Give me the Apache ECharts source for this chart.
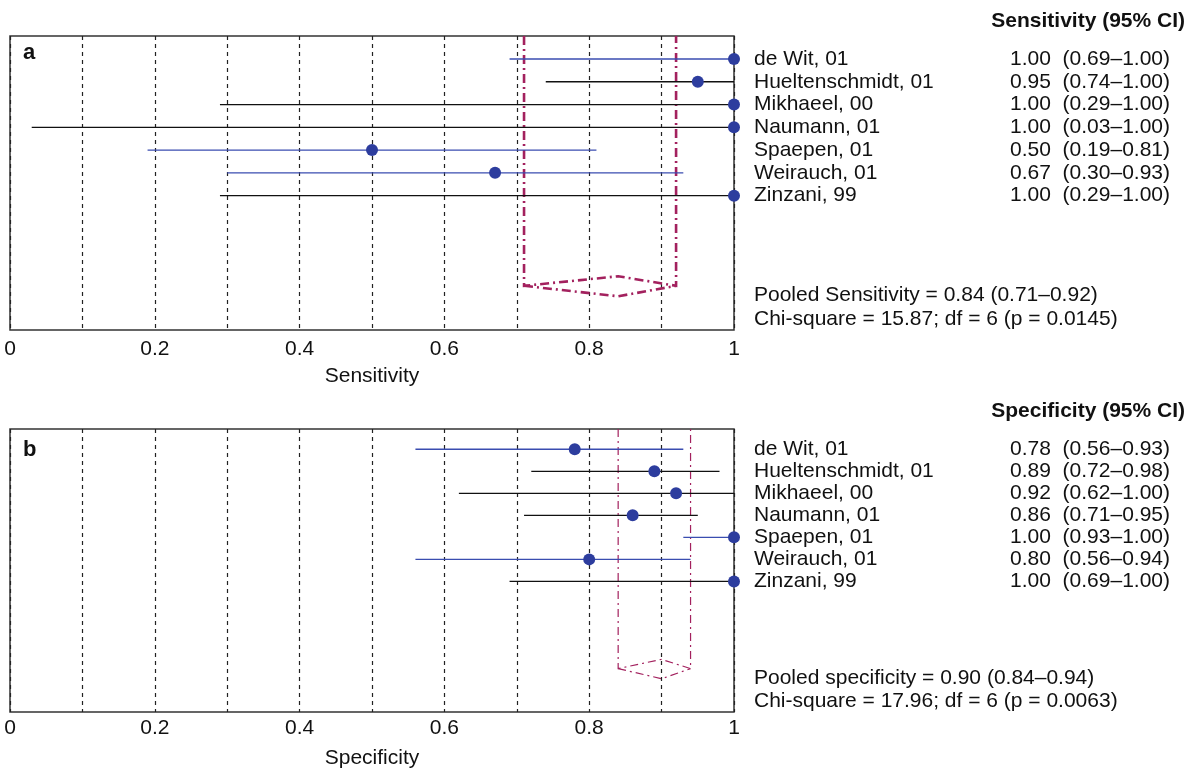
<!DOCTYPE html>
<html><head><meta charset="utf-8">
<script src="https://cdn.jsdelivr.net/npm/echarts@6/dist/echarts.min.js"></script>
<style>html,body{margin:0;padding:0;background:#fff}#c{width:1187px;height:770px}</style>
</head><body><div id="c"></div><script>
// ---------- data ----------
const studies = ['de Wit, 01','Hueltenschmidt, 01','Mikhaeel, 00','Naumann, 01','Spaepen, 01','Weirauch, 01','Zinzani, 99'];
const sensEst = [1.00, 0.95, 1.00, 1.00, 0.50, 0.67, 1.00];
const sensLo  = [0.69, 0.74, 0.29, 0.03, 0.19, 0.30, 0.29];
const sensHi  = [1.00, 1.00, 1.00, 1.00, 0.81, 0.93, 1.00];
const specEst = [0.78, 0.89, 0.92, 0.86, 1.00, 0.80, 1.00];
const specLo  = [0.56, 0.72, 0.62, 0.71, 0.93, 0.56, 0.69];
const specHi  = [0.93, 0.98, 1.00, 0.95, 1.00, 0.94, 1.00];
const lineGroup = ['blue','black','black','black','blue','blue','black'];
const pooledSens = [0.84, 0.71, 0.92];   // estimate, lower, upper
const pooledSpec = [0.90, 0.84, 0.94];
const xTickLabels = [0, 0.2, 0.4, 0.6, 0.8, 1];
const sensHeader = 'Sensitivity (95% CI)';
const specHeader = 'Specificity (95% CI)';
const sensPooledText = 'Pooled Sensitivity = 0.84 (0.71\u20130.92)';
const sensChiText = 'Chi-square = 15.87; df = 6 (p = 0.0145)';
const specPooledText = 'Pooled specificity = 0.90 (0.84\u20130.94)';
const specChiText = 'Chi-square = 17.96; df = 6 (p = 0.0063)';

// ---------- style ----------
const FONT = '"Liberation Sans", Arial, Helvetica, sans-serif';
const BLUE_LINE = '#3a4db0';
const BLACK_LINE = '#111111';
const DOT = '#2d3d9e';
const MAG = '#a3215e';
const FS = 21;

const chart = echarts.init(document.getElementById('c'), null, {renderer: 'canvas'});

function fmtTick(v) {
  for (const t of xTickLabels) {
    if (Math.abs(v - t) < 1e-6) return (t === 0 || t === 1) ? String(t) : t.toFixed(1);
  }
  return '';
}

function xAxisFor(gi, name, margin) {
  return {
    type: 'value', gridIndex: gi, min: 0, max: 1, interval: 0.1,
    axisLine: {show: false}, axisTick: {show: false},
    axisLabel: {formatter: fmtTick, fontSize: FS, color: '#111', fontFamily: FONT, margin: margin},
    splitLine: {show: true, lineStyle: {color: '#222', width: 1.2, type: [4, 4]}},
    name: name, nameLocation: 'middle', nameGap: 36,
    nameTextStyle: {fontSize: FS, color: '#111', fontFamily: FONT}
  };
}
function yAxisFor(gi, mn, mx) {
  return {type: 'value', gridIndex: gi, inverse: true, min: mn, max: mx, show: false};
}

function ciSeries(ai, lo, hi) {
  return {
    type: 'custom', xAxisIndex: ai, yAxisIndex: ai, clip: false, silent: true, z: 2,
    data: lo.map((l, i) => [l, i + 1, hi[i], lineGroup[i] === 'blue' ? 0 : 1]),
    encode: {x: [0, 2], y: 1},
    renderItem(params, api) {
      const p1 = api.coord([api.value(0), api.value(1)]);
      const p2 = api.coord([api.value(2), api.value(1)]);
      return {type: 'line', shape: {x1: p1[0], y1: p1[1], x2: p2[0], y2: p2[1]},
        style: {stroke: api.value(3) === 0 ? BLUE_LINE : BLACK_LINE, lineWidth: 1.3}};
    }
  };
}
function dotSeries(ai, est) {
  return {type: 'scatter', xAxisIndex: ai, yAxisIndex: ai, clip: false, silent: true, z: 3,
    symbolSize: 12, itemStyle: {color: DOT, opacity: 1},
    data: est.map((v, i) => [v, i + 1])};
}
// row texts drawn as custom text elements anchored to the data rows
function textSeries(ai, texts, dx, align) {
  return {type: 'custom', xAxisIndex: ai, yAxisIndex: ai, clip: false, silent: true, z: 4,
    data: texts.map((t, i) => [1, i + 1]),
    encode: {x: 0, y: 1},
    renderItem(params, api) {
      const p = api.coord([api.value(0), api.value(1)]);
      return {type: 'text', x: p[0] + dx, y: p[1],
        style: {text: texts[params.dataIndex], fontSize: FS, fill: '#111', fontFamily: FONT,
          textAlign: align, textVerticalAlign: 'middle'}};
    }};
}
function valueTexts(est, lo, hi) {
  return est.map((e, i) => e.toFixed(2) + '  (' + lo[i].toFixed(2) + '\u2013' + hi[i].toFixed(2) + ')');
}
function pooledSeries(ai, pooled, ymin, lw, dash) {
  const MID = 10.96, UP = 10.54, DOWN = 11.42;
  return {type: 'custom', xAxisIndex: ai, yAxisIndex: ai, clip: false, silent: true, z: 2,
    data: [pooled], encode: {x: [0, 1, 2]},
    renderItem(params, api) {
      const e = api.value(0), l = api.value(1), h = api.value(2);
      const c = (x, y) => api.coord([x, y]);
      const st = {stroke: MAG, lineWidth: lw, lineDash: dash, fill: null};
      return {type: 'group', children: [
        {type: 'polyline', shape: {points: [c(l, ymin), c(l, MID), c(e, UP), c(h, MID), c(h, ymin)]}, style: st},
        {type: 'polyline', shape: {points: [c(l, MID), c(e, DOWN), c(h, MID)]}, style: st}
      ]};
    }};
}

const YA = [-0.01, 12.90];
const YB = [0.08, 12.93];

function txt(x, y, s, opts) {
  return Object.assign({type: 'text', x: x, y: y, silent: true,
    style: Object.assign({text: s, fontSize: FS, fill: '#111', fontFamily: FONT,
      textAlign: 'left', textVerticalAlign: 'middle'}, opts || {})});
}

chart.setOption({
  animation: false,
  backgroundColor: '#fff',
  textStyle: {fontFamily: FONT},
  grid: [
    {left: 10, top: 36, width: 724, height: 294, show: true, borderColor: '#333', borderWidth: 1.5, backgroundColor: 'transparent'},
    {left: 10, top: 429, width: 724, height: 284, show: true, borderColor: '#333', borderWidth: 1.5, backgroundColor: 'transparent'}
  ],
  xAxis: [xAxisFor(0, 'Sensitivity', 9), xAxisFor(1, 'Specificity', 6)],
  yAxis: [yAxisFor(0, YA[0], YA[1]), yAxisFor(1, YB[0], YB[1])],
  series: [
    pooledSeries(0, pooledSens, YA[0], 2.6, [9, 4, 2, 4]),
    ciSeries(0, sensLo, sensHi),
    dotSeries(0, sensEst),
    textSeries(0, studies, 20, 'left'),
    textSeries(0, valueTexts(sensEst, sensLo, sensHi), 436, 'right'),
    pooledSeries(1, pooledSpec, YB[0], 1.2, [8, 4, 2, 4]),
    ciSeries(1, specLo, specHi),
    dotSeries(1, specEst),
    textSeries(1, studies, 20, 'left'),
    textSeries(1, valueTexts(specEst, specLo, specHi), 436, 'right')
  ],
  graphic: [
    txt(23, 53, 'a', {fontWeight: 'bold', fontSize: 22}),
    txt(23, 450, 'b', {fontWeight: 'bold', fontSize: 22}),
    txt(1185, 21, sensHeader, {fontWeight: 'bold', textAlign: 'right'}),
    txt(1185, 411, specHeader, {fontWeight: 'bold', textAlign: 'right'}),
    txt(754, 295, sensPooledText),
    txt(754, 319, sensChiText),
    txt(754, 678, specPooledText),
    txt(754, 701, specChiText)
  ]
});
</script></body></html>
